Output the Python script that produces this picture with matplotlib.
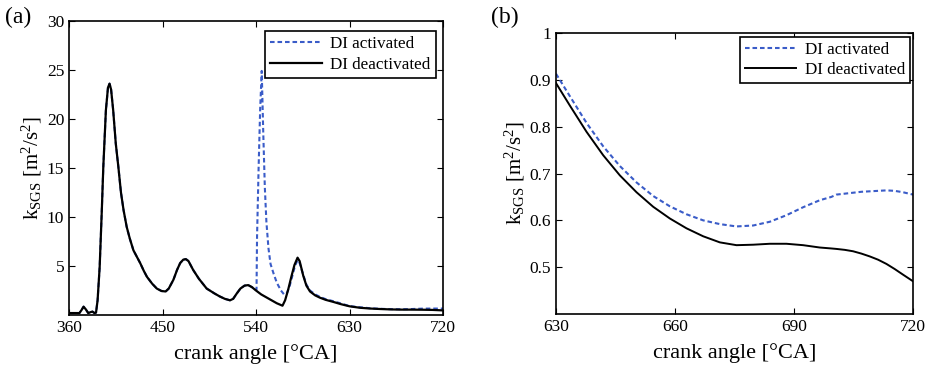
import matplotlib
matplotlib.use("Agg")
import matplotlib.pyplot as plt

plt.rcParams['font.family'] = ['Liberation Serif', 'DejaVu Serif']
plt.rcParams['mathtext.fontset'] = 'custom'
plt.rcParams['mathtext.rm'] = 'Liberation Serif'
plt.rcParams['mathtext.it'] = 'Liberation Serif:italic'

# (a) full cycle, crank angle in deg CA, k_SGS in m^2/s^2
ca_off = [360, 370, 372, 374, 376, 378.5, 381, 382.5, 384.5, 386, 387.5, 389.5, 391.5,
          393, 395.5, 397.5, 399, 400.5, 402.5, 405, 407.5, 410, 412.5, 415.5, 418.5,
          422, 425, 428.5, 432, 435, 440, 444.5, 449, 453, 456, 460.5, 464, 467, 470,
          472.5, 475, 479.5, 485, 492.5, 500, 505, 510, 515, 518, 521.5, 525, 529,
          532.5, 536, 540, 545, 550, 555, 560, 565.5, 568, 571, 574, 577, 580, 582,
          585.5, 588.5, 592, 597, 601.5, 607, 614, 622, 630, 640, 650, 660, 670, 680,
          690, 700, 710, 720]
k_off = [0.2, 0.2, 0.5, 0.85, 0.6, 0.2, 0.3, 0.35, 0.2, 0.25, 1.5, 4.9, 10.5,
         15.1, 20.9, 23.2, 23.6, 23.0, 20.9, 17.5, 15.1, 12.5, 10.7, 9.0, 7.8,
         6.6, 6.0, 5.3, 4.5, 3.9, 3.2, 2.7, 2.45, 2.4, 2.7, 3.6, 4.6, 5.3, 5.65,
         5.7, 5.5, 4.6, 3.7, 2.7, 2.2, 1.9, 1.65, 1.5, 1.65, 2.2, 2.7, 3.0,
         3.05, 2.85, 2.5, 2.1, 1.8, 1.5, 1.2, 0.95, 1.5, 2.6, 3.9, 5.1, 5.85, 5.5,
         4.0, 3.0, 2.4, 2.0, 1.77, 1.55, 1.35, 1.1, 0.89, 0.74, 0.66, 0.61, 0.57, 0.55,
         0.55, 0.54, 0.52, 0.47]

ca_on = [360, 370, 372, 374, 376, 378.5, 381, 382.5, 384.5, 386, 387.5, 389.5, 391.5,
         393, 395.5, 397.5, 399, 400.5, 402.5, 405, 407.5, 410, 412.5, 415.5, 418.5,
         422, 425, 428.5, 432, 435, 440, 444.5, 449, 453, 456, 460.5, 464, 467, 470,
         472.5, 475, 479.5, 485, 492.5, 500, 505, 510, 515, 518, 521.5, 525, 529,
         532.5, 536, 540, 540.5, 541, 542.5, 544, 545.5, 547, 548.5, 550, 552, 554,
         557, 560, 564, 567, 570, 572.5, 575, 577.5, 580, 582, 585.5, 588.5, 592,
         597, 601.5, 607, 614, 622, 630, 640, 650, 660, 670, 680, 690, 700, 710, 720]
k_on = [0.2, 0.2, 0.5, 0.85, 0.6, 0.2, 0.3, 0.35, 0.2, 0.25, 1.5, 4.9, 10.5,
        15.1, 20.9, 23.2, 23.6, 23.0, 20.9, 17.5, 15.1, 12.5, 10.7, 9.0, 7.8,
        6.6, 6.0, 5.3, 4.5, 3.9, 3.2, 2.7, 2.45, 2.4, 2.7, 3.6, 4.6, 5.3, 5.65,
        5.7, 5.5, 4.6, 3.7, 2.7, 2.2, 1.9, 1.65, 1.5, 1.65, 2.2, 2.7, 3.0,
        3.05, 2.85, 2.55, 2.6, 8.0, 15.0, 21.0, 24.9, 18.5, 13.0, 9.5, 6.8, 5.2,
        4.2, 3.3, 2.5, 2.1, 2.3, 3.0, 4.0, 5.0, 5.6, 5.3, 4.1, 3.1, 2.5,
        2.1, 1.85, 1.62, 1.42, 1.17, 0.91, 0.79, 0.69, 0.63, 0.60, 0.59, 0.61, 0.65, 0.66, 0.655]

# (b) zoom on 630-720 deg CA
ca_zoom = [630, 633.5, 637.7, 641.9, 646.1, 650.3, 654.5, 658.7, 662.9, 667.1, 671.3,
           675.5, 679.7, 683.9, 688.1, 692.3, 696.5, 699.4, 700.7, 702.8, 704.9, 707,
           709.1, 711.2, 713.3, 715.4, 717.5, 720]
k_zoom_on = [0.913, 0.865, 0.808, 0.758, 0.716, 0.681, 0.652, 0.630, 0.613, 0.600, 0.592,
             0.587, 0.589, 0.597, 0.611, 0.628, 0.643, 0.650, 0.655, 0.657, 0.659, 0.661,
             0.662, 0.663, 0.664, 0.663, 0.660, 0.655]
k_zoom_off = [0.893, 0.845, 0.789, 0.739, 0.696, 0.660, 0.629, 0.604, 0.583, 0.566, 0.553,
              0.547, 0.548, 0.550, 0.550, 0.547, 0.542, 0.540, 0.539, 0.537, 0.534, 0.529,
              0.523, 0.516, 0.507, 0.496, 0.484, 0.470]

blue = '#3a5cc8'
dash = (0, (2.2, 1.4))

fig = plt.figure(figsize=(9.34, 3.69), dpi=100)
ax1 = fig.add_axes([0.0739, 0.1463, 0.4004, 0.797])
ax2 = fig.add_axes([0.5953, 0.149, 0.3822, 0.7615])

ax1.plot(ca_on, k_on, color=blue, ls=dash, lw=1.5, label='DI activated')
ax1.plot(ca_off, k_off, color='black', lw=1.6, label='DI deactivated')
ax1.set_xlim(360, 720)
ax1.set_ylim(0, 30)
ax1.set_xticks([360, 450, 540, 630, 720])
ax1.set_yticks([5, 10, 15, 20, 25, 30])

ax2.plot(ca_zoom, k_zoom_on, color=blue, ls=dash, lw=1.5, label='DI activated')
ax2.plot(ca_zoom, k_zoom_off, color='black', lw=1.4, label='DI deactivated')
ax2.set_xlim(630, 720)
ax2.set_ylim(0.4, 1.0)
ax2.set_xticks([630, 660, 690, 720])
ax2.set_yticks([0.5, 0.6, 0.7, 0.8, 0.9, 1.0])
ax2.set_yticklabels(['0.5', '0.6', '0.7', '0.8', '0.9', '1'])

for ax in (ax1, ax2):
    ax.tick_params(direction='in', top=True, right=True, labelsize=12.5, length=4, width=0.8)
    for s in ax.spines.values():
        s.set_linewidth(1.2)
    ax.set_xlabel('crank angle [°CA]', fontsize=16, labelpad=6)
    ax.set_ylabel(r'k$_\mathrm{SGS}$ [m$^2$/s$^2$]', fontsize=15, labelpad=2)

leg1 = ax1.legend(loc='upper right', bbox_to_anchor=(0.98, 0.965), borderaxespad=0,
                  fontsize=12.3, fancybox=False, framealpha=1, edgecolor='black',
                  handlelength=3.0, borderpad=0.3, labelspacing=0.25, handletextpad=0.5)
leg2 = ax2.legend(loc='upper right', bbox_to_anchor=(0.992, 0.986), borderaxespad=0,
                  fontsize=12.3, fancybox=False, framealpha=1, edgecolor='black',
                  handlelength=3.0, borderpad=0.3, labelspacing=0.25, handletextpad=0.5)
for leg in (leg1, leg2):
    leg.get_frame().set_linewidth(1.2)

fig.text(0.005, 0.953, '(a)', fontsize=17, va='center', ha='left')
fig.text(0.526, 0.953, '(b)', fontsize=17, va='center', ha='left')

fig.savefig('out.png', dpi=100)
